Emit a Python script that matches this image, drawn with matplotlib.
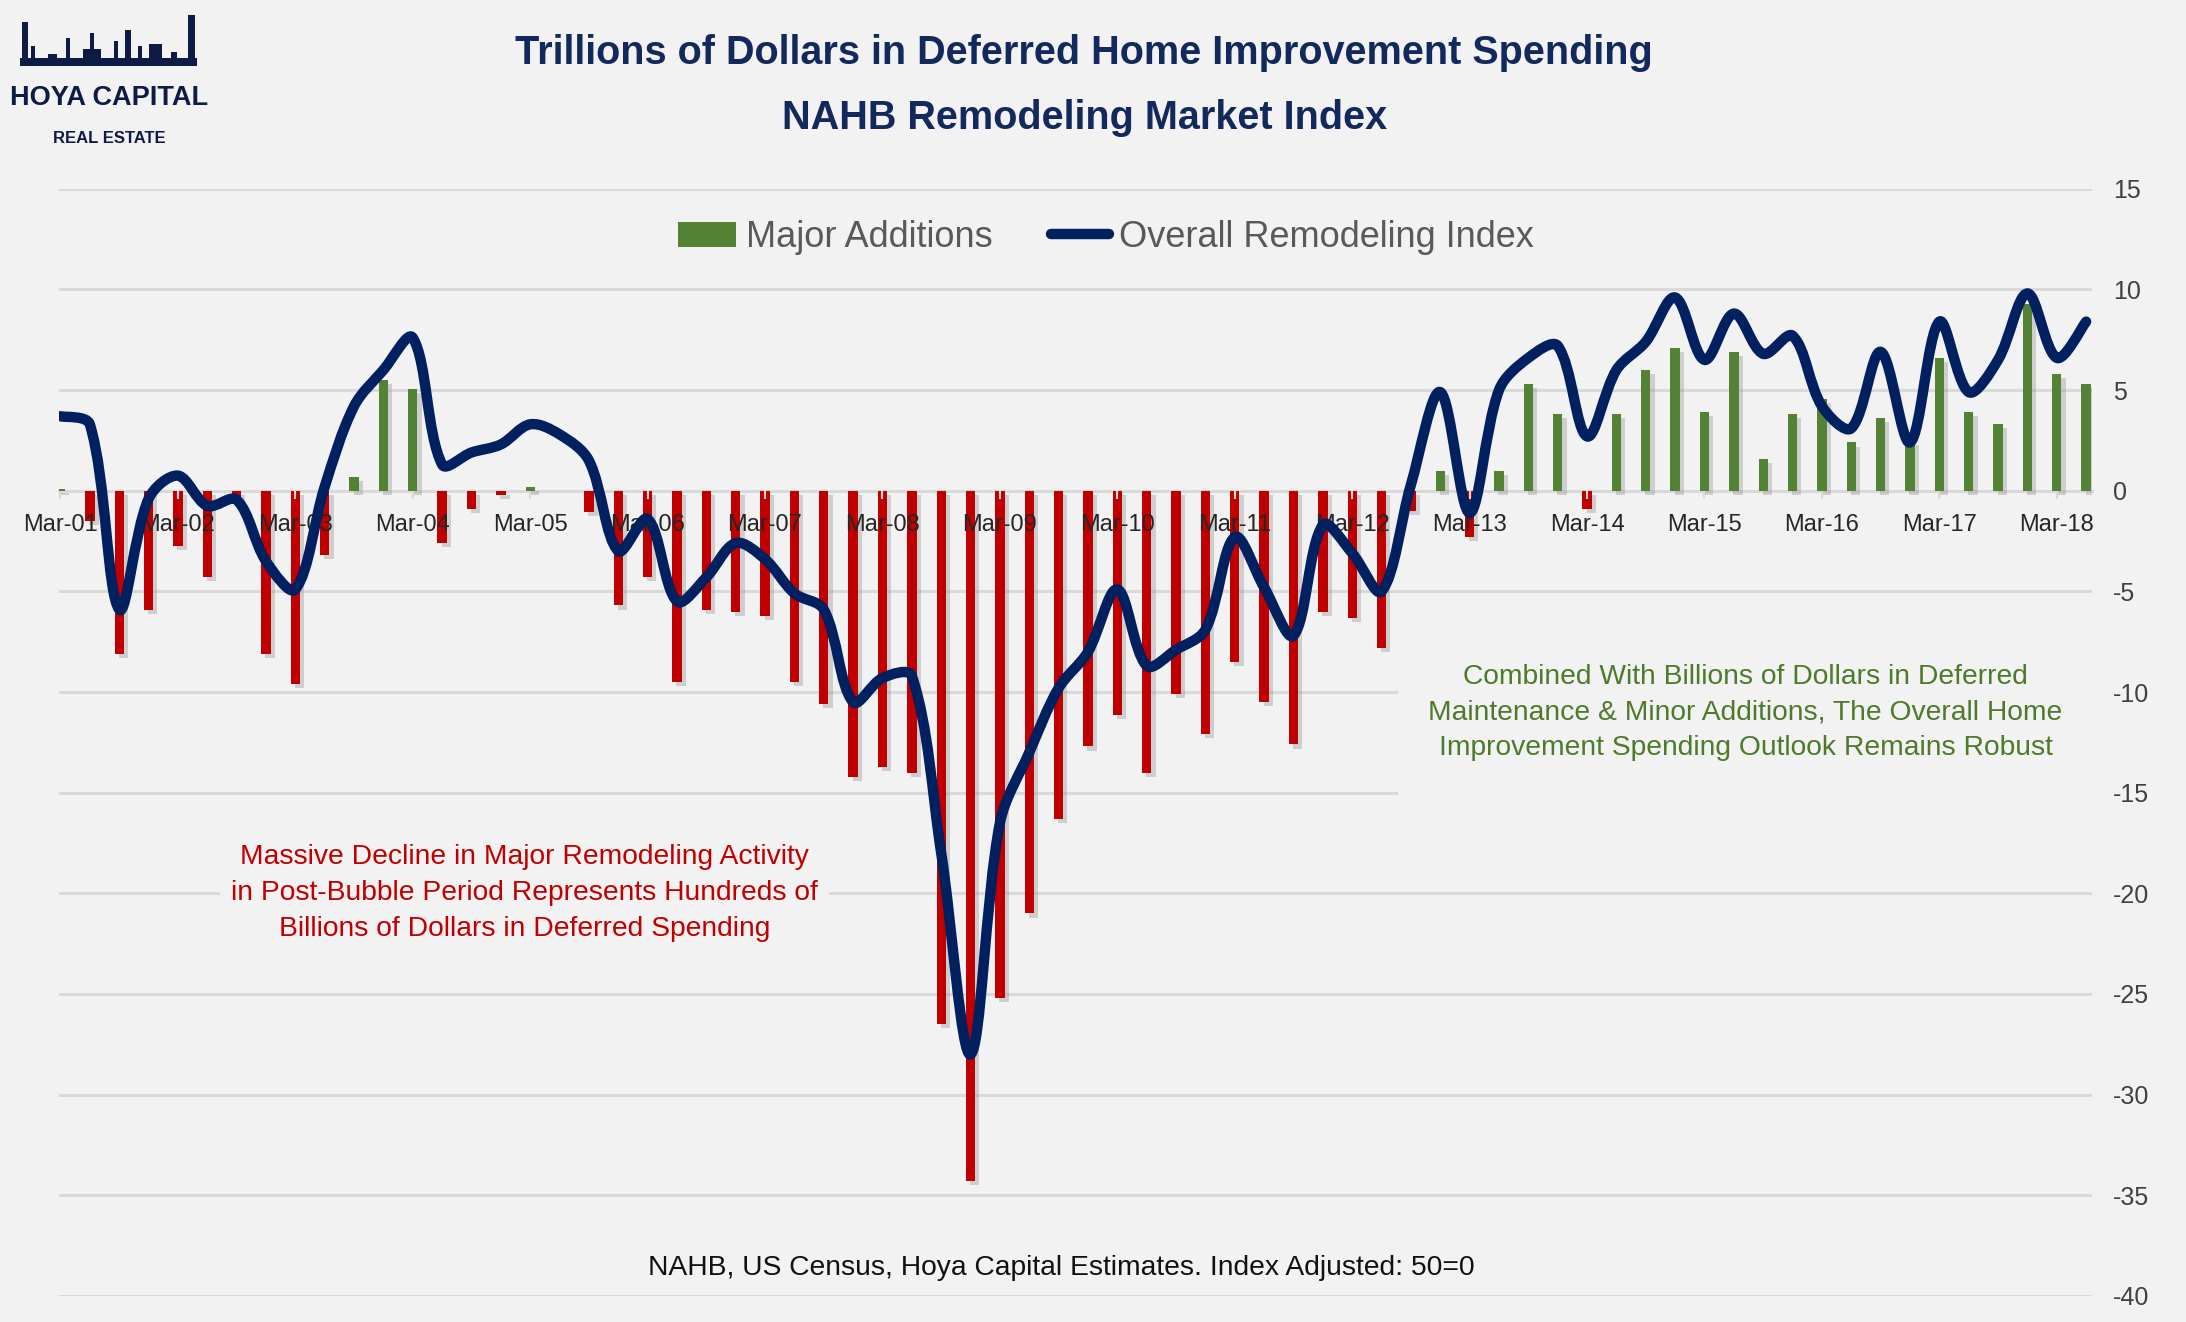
import matplotlib
matplotlib.use("Agg")
import matplotlib.pyplot as plt
import matplotlib.patheffects as pe
from matplotlib.path import Path
from matplotlib.patches import PathPatch, Patch, Rectangle
from matplotlib.lines import Line2D
import numpy as np

# quarterly, Mar-01 .. Jun-18
years = ["01", "02", "03", "04", "05", "06", "07", "08", "09",
         "10", "11", "12", "13", "14", "15", "16", "17", "18"]
tick_labels = ["Mar-" + y for y in years]

major_additions = [0.1, -1.5, -8.1, -5.9, -2.75, -4.3, -0.5, -8.1, -9.6, -3.2,
                   0.7, 5.5, 5.05, -2.6, -0.9, -0.2, 0.2, 0.0, -1.05, -5.7,
                   -4.3, -9.5, -5.9, -6.0, -6.2, -9.5, -10.6, -14.2, -13.7, -14.0,
                   -26.5, -34.3, -25.2, -21.0, -16.3, -12.7, -11.15, -14.0, -10.1, -12.1,
                   -8.5, -10.5, -12.6, -6.0, -6.3, -7.8, -1.0, 1.0, -2.3, 1.0,
                   5.3, 3.8, -0.9, 3.8, 6.0, 7.1, 3.9, 6.9, 1.6, 3.8,
                   4.55, 2.4, 3.6, 2.5, 6.6, 3.9, 3.3, 9.3, 5.8, 5.3]

overall_index = [3.7, 3.3, -5.9, -0.4, 0.75, -0.75, -0.45, -3.5, -4.9, 0.2,
                 4.2, 6.0, 7.6, 1.3, 1.9, 2.3, 3.3, 2.8, 1.5, -3.0,
                 -1.4, -5.5, -4.3, -2.6, -3.4, -5.1, -5.9, -10.5, -9.3, -9.2,
                 -18.0, -28.0, -16.5, -13.0, -9.8, -8.0, -4.9, -8.7, -7.9, -6.9,
                 -2.3, -4.8, -7.2, -1.7, -3.1, -5.0, 0.3, 4.9, -1.1, 5.0,
                 6.6, 7.2, 2.7, 6.0, 7.4, 9.6, 6.5, 8.8, 6.8, 7.7,
                 4.2, 3.1, 6.9, 2.4, 8.4, 4.9, 6.5, 9.8, 6.6, 8.4]

y_ticks = [15, 10, 5, 0, -5, -10, -15, -20, -25, -30, -35, -40]

BG = "#F2F2F2"
GREEN = "#548235"
RED = "#C00000"
NAVY = "#002060"
GRID = "#D9D9D9"
LOGO = "#0E1B45"
FONT = "Liberation Sans"

fig = plt.figure(figsize=(21.86, 13.22), dpi=100, facecolor=BG)
ax = fig.add_axes([0.027, 0.0197, 0.930, 0.8375])
ax.set_facecolor(BG)
ax.set_xlim(-0.05, 69.2)
ax.set_ylim(-40, 15)

x = np.arange(len(major_additions), dtype=float)
ma = np.array(major_additions)
ov = np.array(overall_index)

# grid lines (under bars)
for t in y_ticks:
    if t != 0:
        ax.axhline(t, color=GRID, lw=2.2, zorder=0)

shadow = [pe.SimplePatchShadow(offset=(3, -3), shadow_rgbFace="#8c8c8c", alpha=0.35), pe.Normal()]
bar_colors = [GREEN if v >= 0 else RED for v in ma]
bars = ax.bar(x, ma, width=0.32, color=bar_colors, zorder=2)
for b in bars:
    b.set_path_effects(shadow)

# smoothed index line: bezier through the points, control arms scaled by
# the on-screen segment lengths (close to what Excel does)
pts = np.column_stack([x, ov])
pix = ax.transData.transform(pts)
n = len(ov)
seg = np.hypot(*(np.diff(pix, axis=0).T))
verts = [tuple(pts[0])]
codes = [Path.MOVETO]
for i in range(n - 1):
    i0 = max(i - 1, 0)
    i3 = min(i + 2, n - 1)
    t1 = (pts[i + 1] - pts[i0]) / 6.0
    t2 = (pts[i3] - pts[i]) / 6.0
    k1 = 1.0 if i == 0 else 2 * seg[i] / (seg[i - 1] + seg[i])
    k2 = 1.0 if i + 1 == n - 1 else 2 * seg[i] / (seg[i] + seg[i + 1])
    verts += [tuple(pts[i] + t1 * k1), tuple(pts[i + 1] - t2 * k2), tuple(pts[i + 1])]
    codes += [Path.CURVE4] * 3
line = PathPatch(Path(verts, codes), fill=False, edgecolor=NAVY, lw=7.5,
                 capstyle="round", joinstyle="round", zorder=4)
ax.add_patch(line)

# category axis sits on zero
for s in ["top", "left", "right"]:
    ax.spines[s].set_visible(False)
ax.spines["bottom"].set_position(("data", 0))
ax.spines["bottom"].set_color(GRID)
ax.spines["bottom"].set_linewidth(2.2)
ax.spines["bottom"].set_zorder(1)
ax.set_xticks(x[::4])
ax.set_xticklabels(tick_labels, family=FONT, fontsize=17, color="#262626")
ax.tick_params(axis="x", length=6, width=1.5, color=GRID, pad=11)
ax.xaxis.set_zorder(3)

ax.yaxis.tick_right()
ax.set_yticks(y_ticks)
ax.set_yticklabels([str(t) for t in y_ticks], family=FONT, fontsize=18, color="#404040")
ax.tick_params(axis="y", length=0, pad=15)

# legend
handles = [Patch(facecolor=GREEN, edgecolor="none"),
           Line2D([], [], color=NAVY, lw=7.5, solid_capstyle="round")]
leg = ax.legend(handles, ["Major Additions", "Overall Remodeling Index"], ncol=2,
                loc="center", bbox_to_anchor=(0.515, 0.956), frameon=False,
                prop={"family": FONT, "size": 26}, labelcolor="#595959",
                handlelength=1.6, handletextpad=0.3, columnspacing=1.6)
leg.set_zorder(5)

# annotations
ax.text(15.8, -20.0, "Massive Decline in Major Remodeling Activity\n"
        "in Post-Bubble Period Represents Hundreds of\n"
        "Billions of Dollars in Deferred Spending",
        ha="center", va="center", color=RED, fontsize=20.3, family=FONT,
        linespacing=1.5, zorder=3,
        bbox=dict(facecolor=BG, edgecolor="none", pad=8))

ax.add_patch(Rectangle((45.55, -15.6), 24, 8.1, facecolor=BG, edgecolor="none", zorder=1))
ax.text(57.4, -11.0, "Combined With Billions of Dollars in Deferred\n"
        "Maintenance & Minor Additions, The Overall Home\n"
        "Improvement Spending Outlook Remains Robust",
        ha="center", va="center", color="#4E7A2C", fontsize=20.3, family=FONT,
        linespacing=1.48, zorder=3)

ax.text(34.1, -38.6, "NAHB, US Census, Hoya Capital Estimates. Index Adjusted: 50=0",
        ha="center", va="center", color="#111111", fontsize=20.3, family=FONT)

# title
fig.text(0.496, 0.960, "Trillions of Dollars in Deferred Home Improvement Spending",
         ha="center", va="center", color="#13285C", fontsize=28.5, weight="bold", family=FONT)
fig.text(0.496, 0.911, "NAHB Remodeling Market Index",
         ha="center", va="center", color="#13285C", fontsize=28.5, weight="bold", family=FONT)

# logo
fig.text(0.050, 0.926, "HOYA CAPITAL", ha="center", va="center", color=LOGO,
         fontsize=19.5, weight="bold", family=FONT)
fig.text(0.050, 0.895, "REAL ESTATE", ha="center", va="center", color=LOGO,
         fontsize=12, weight="bold", family=FONT)
fig.add_artist(Rectangle((0.009, 0.950), 0.081, 0.006, transform=fig.transFigure,
                         facecolor=LOGO, edgecolor="none"))
for bx, bw, bh in [(0.010, 0.003, 0.030), (0.014, 0.002, 0.012), (0.022, 0.004, 0.006),
                   (0.030, 0.002, 0.018), (0.038, 0.008, 0.010), (0.041, 0.002, 0.022),
                   (0.052, 0.002, 0.016), (0.057, 0.003, 0.024), (0.063, 0.002, 0.012),
                   (0.068, 0.006, 0.014), (0.078, 0.003, 0.008), (0.086, 0.003, 0.036)]:
    fig.add_artist(Rectangle((bx, 0.953), bw, bh, transform=fig.transFigure,
                             facecolor=LOGO, edgecolor="none"))

fig.savefig("out.png", dpi=100, facecolor=BG)
